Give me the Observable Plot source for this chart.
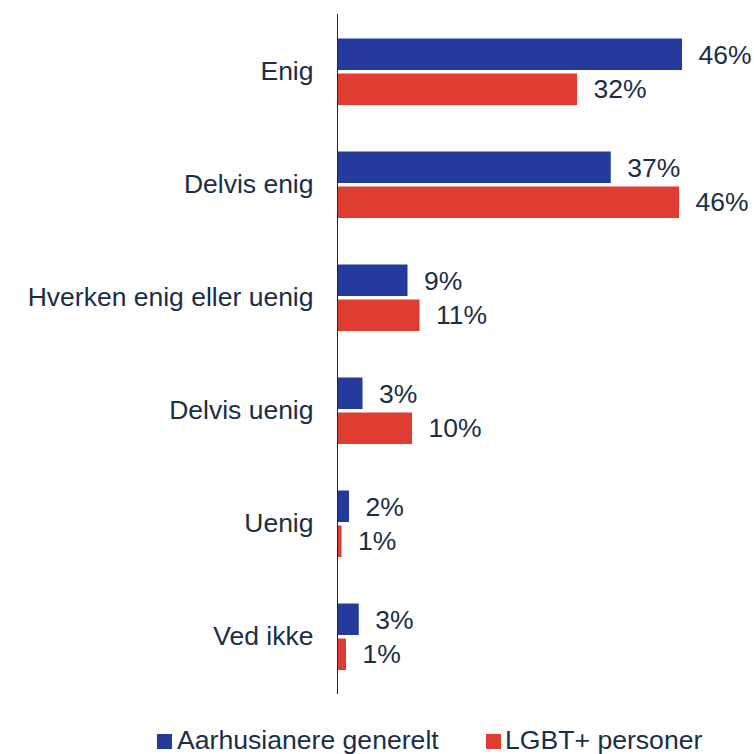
<!DOCTYPE html>
<html>
<head>
<meta charset="utf-8">
<script src="https://cdn.jsdelivr.net/npm/d3@7"></script>
<script src="https://cdn.jsdelivr.net/npm/@observablehq/plot@0.6"></script>
<style>
  html, body { margin: 0; padding: 0; background: #ffffff; }
  #wrap { width: 754px; font-family: "Liberation Sans", Arial, sans-serif; color: #1b2e45; }
  #legend { position: relative; width: 754px; height: 44px; overflow: hidden; }
  #legend .sw { position: absolute; width: 15px; height: 15px; top: 24px; }
  #legend .lb { position: absolute; top: 17px; font-size: 26.6px; line-height: 26px; white-space: nowrap; }
</style>
</head>
<body>
<div id="wrap">
  <div id="chart"></div>
  <div id="legend"></div>
</div>
<script>
const categories = ["Enig", "Delvis enig", "Hverken enig eller uenig", "Delvis uenig", "Uenig", "Ved ikke"];
const seriesNames = ["Aarhusianere generelt", "LGBT+ personer"];
const seriesColors = ["#243b9d", "#e03c31"];
const aarhusValues = [46, 36.5, 9.4, 3.4, 1.6, 2.9];
const lgbtValues = [32, 45.6, 11, 10, 0.6, 1.2];
const aarhusLabels = ["46%", "37%", "9%", "3%", "2%", "3%"];
const lgbtLabels = ["32%", "46%", "11%", "10%", "1%", "1%"];

const aarhus = categories.map((c, i) => ({category: c, value: aarhusValues[i], label: aarhusLabels[i]}));
const lgbt = categories.map((c, i) => ({category: c, value: lgbtValues[i], label: lgbtLabels[i]}));

const textColor = "#1b2e45";

const chart = Plot.plot({
  width: 754,
  height: 710,
  marginLeft: 337,
  marginRight: 4.5,
  marginTop: 14,
  marginBottom: 16,
  style: {fontFamily: "Liberation Sans, Arial, sans-serif", fontSize: "26.5px", color: textColor, background: "#ffffff"},
  x: {domain: [0, 55], axis: null},
  y: {domain: categories, padding: 0, label: null},
  marks: [
    Plot.barX(aarhus, {x: "value", y: "category", fill: seriesColors[0], insetTop: 23.5, insetBottom: 58}),
    Plot.barX(lgbt, {x: "value", y: "category", fill: seriesColors[1], insetTop: 58.5, insetBottom: 23}),
    Plot.text(aarhus, {x: "value", y: "category", text: "label", textAnchor: "start", dx: 16, dy: -16.5, fontSize: 26.5, fill: textColor}),
    Plot.text(lgbt, {x: "value", y: "category", text: "label", textAnchor: "start", dx: 16, dy: 17.5, fontSize: 26.5, fill: textColor}),
    Plot.axisY({tickSize: 0, tickPadding: 24, fontSize: 26.5, label: null, fill: textColor}),
    Plot.ruleX([0], {stroke: "#1b2633", strokeWidth: 1})
  ]
});
document.getElementById("chart").appendChild(chart);

const legend = document.getElementById("legend");
const legendPos = [{sw: 157, lb: 177}, {sw: 486, lb: 505}];
seriesNames.forEach((name, i) => {
  const sw = document.createElement("div");
  sw.className = "sw";
  sw.style.left = legendPos[i].sw + "px";
  sw.style.background = seriesColors[i];
  const lb = document.createElement("div");
  lb.className = "lb";
  lb.style.left = legendPos[i].lb + "px";
  lb.textContent = name;
  legend.appendChild(sw);
  legend.appendChild(lb);
});
</script>
</body>
</html>
